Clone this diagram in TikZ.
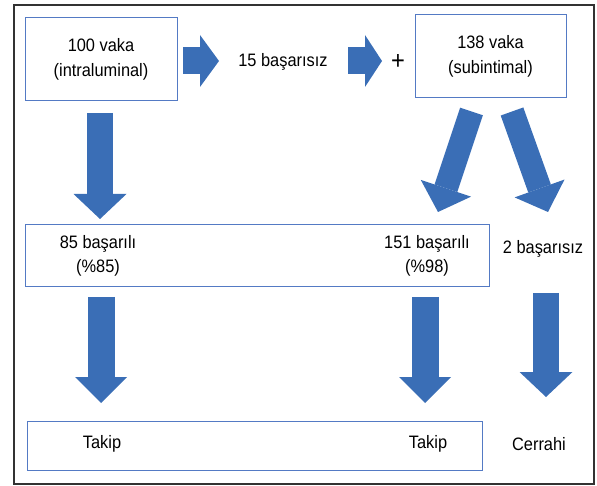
\documentclass[tikz,border=0pt]{standalone}
\usepackage{fontspec}
\setmainfont{Liberation Sans}[FakeStretch=0.91]
\usetikzlibrary{arrows.meta}
\definecolor{arrowblue}{RGB}{58,110,182}
\definecolor{boxblue}{RGB}{84,122,196}
\definecolor{framegray}{RGB}{50,50,50}
\begin{document}
\begin{tikzpicture}[x=1pt,y=-1pt,
  lbl/.style={font=\fontsize{18}{24.5}\selectfont, align=center, inner sep=0pt, text=black},
  box/.style={draw=boxblue, line width=1pt, fill=white, inner sep=0pt, lbl},
  barrow/.style n args={3}{draw=arrowblue, line width=#1,
    -{Triangle[length=#3, width=#2, line width=0pt, fill=arrowblue]}}]
\useasboundingbox (0,0) rectangle (597,486);
\draw[framegray, line width=1.2pt] (14,5) rectangle (594,484);

% boxes and labels
\node[box, minimum width=152pt, minimum height=83pt] (b1) at (101,59.5) {100 vaka\\(intraluminal)};
\node[box, minimum width=151pt, minimum height=83pt] (b2) at (490.5,56.5) {138 vaka\\(subintimal)};
\node[lbl] (f15) at (283,62) {15 başarısız};
\node[lbl, font=\fontsize{26}{28}\selectfont] (plus) at (398,62) {+};
\node[box, minimum width=464pt, minimum height=62pt] (mid) at (257,256) {};
\node[lbl] (s85) at (98,256) {85 başarılı\\(\%85)};
\node[lbl] (s151) at (427,256) {151 başarılı\\(\%98)};
\node[lbl] (f2) at (543,249) {2 başarısız};
\node[box, minimum width=455pt, minimum height=49pt] (bot) at (254.5,445.5) {};
\node[lbl] (t1) at (102,444) {Takip};
\node[lbl] (t2) at (428,444) {Takip};
\node[lbl] (cer) at (539,444) {Cerrahi};

% arrow end points
\coordinate (r1s) at (183,61);   \coordinate (r1e) at (219,61);
\coordinate (r2s) at (348,61);   \coordinate (r2e) at (382,61);
\coordinate (d1s) at (100,113);  \coordinate (d1e) at (100,219);
\coordinate (gls) at (471.5,111.5); \coordinate (gle) at (438,212);
\coordinate (grs) at (512,111.5);   \coordinate (gre) at (548,212);
\coordinate (d2s) at (101,297);  \coordinate (d2e) at (101,403);
\coordinate (d3s) at (425,297);  \coordinate (d3e) at (425,403);
\coordinate (d4s) at (546,293);  \coordinate (d4e) at (546,397);

% block arrows
\draw[barrow={27pt}{52pt}{19pt}] (r1s) -- (r1e);
\draw[barrow={27pt}{52pt}{17pt}] (r2s) -- (r2e);
\draw[barrow={26pt}{53pt}{25pt}] (d1s) -- (d1e);
\draw[barrow={24pt}{53pt}{25pt}] (gls) -- (gle);
\draw[barrow={24pt}{53pt}{25pt}] (grs) -- (gre);
\draw[barrow={27pt}{52pt}{26pt}] (d2s) -- (d2e);
\draw[barrow={27pt}{52pt}{26pt}] (d3s) -- (d3e);
\draw[barrow={26pt}{53pt}{25pt}] (d4s) -- (d4e);
\end{tikzpicture}
\end{document}
